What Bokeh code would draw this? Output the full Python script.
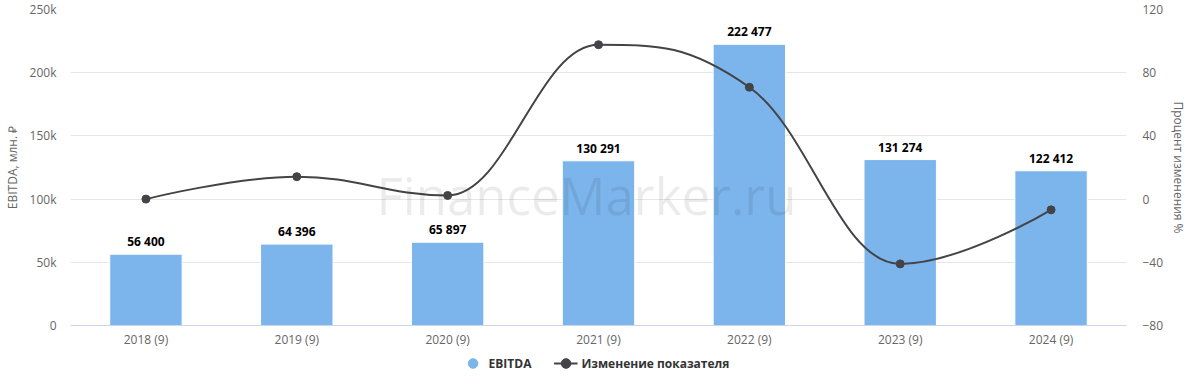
from bokeh.plotting import figure
from bokeh.layouts import column
from bokeh.models import (ColumnDataSource, Range1d, LinearAxis, FixedTicker, CustomJSTickFormatter,
                          Legend, LegendItem, Label, FactorRange)
from bokeh.core.properties import value
from bokeh.embed import file_html
from bokeh.resources import INLINE

categories = ["2018 (9)", "2019 (9)", "2020 (9)", "2021 (9)", "2022 (9)", "2023 (9)", "2024 (9)"]
ebitda = [56400, 64396, 65897, 130291, 222477, 131274, 122412]
change_pct = [0.0, 14.2, 2.3, 97.7, 70.8, -41.0, -6.8]
left_ticks = [0, 50000, 100000, 150000, 200000, 250000]
right_ticks = [-80, -40, 0, 40, 80, 120]
legend_labels = ["EBITDA", "Изменение показателя"]

FONT = "Open Sans"
BAR_COLOR = "#7cb5ec"
LINE_COLOR = "#434348"
NAN = float("nan")


def fmt_space(v):
    return f"{v:,}".replace(",", " ")


p = figure(frame_width=1056, frame_height=316, x_range=FactorRange(*categories, range_padding=0),
           y_range=Range1d(0, 250000), output_backend="svg", toolbar_location=None,
           min_border_left=70, min_border_right=58, min_border_top=9, min_border_bottom=0)
p.extra_y_ranges = {"pct": Range1d(-80, 120)}
p.outline_line_color = None
p.background_fill_color = "white"

# bars
src = ColumnDataSource(dict(cat=categories, val=ebitda, lab=[fmt_space(v) for v in ebitda]))
p.vbar(x="cat", top="val", width=0.48, source=src, fill_color=BAR_COLOR, line_color="white", line_width=1)
p.text(x="cat", y="val", text="lab", source=src, text_align="center", text_baseline="bottom",
       y_offset=-4, text_font=value(FONT), text_font_size="12px", text_font_style="bold", text_color="black")

# spline (Highcharts-style control points)
xs = [i + 0.5 for i in range(len(categories))]
ys = change_pct
sm = 1.5
den = sm + 1
lc = [None] * len(xs)
rc = [None] * len(xs)
for i in range(1, len(xs) - 1):
    px, py = xs[i], ys[i]
    lx, ly = xs[i - 1], ys[i - 1]
    nx, ny = xs[i + 1], ys[i + 1]
    lcx = (sm * px + lx) / den
    lcy = (sm * py + ly) / den
    rcx = (sm * px + nx) / den
    rcy = (sm * py + ny) / den
    corr = ((rcy - lcy) * (rcx - px)) / (rcx - lcx) + py - rcy
    lcy += corr
    rcy += corr
    if lcy > ly and lcy > py:
        lcy = max(ly, py); rcy = 2 * py - lcy
    elif lcy < ly and lcy < py:
        lcy = min(ly, py); rcy = 2 * py - lcy
    if rcy > ny and rcy > py:
        rcy = max(ny, py); lcy = 2 * py - rcy
    elif rcy < ny and rcy < py:
        rcy = min(ny, py); lcy = 2 * py - rcy
    lc[i] = (lcx, lcy)
    rc[i] = (rcx, rcy)

bz = dict(x0=[], y0=[], x1=[], y1=[], cx0=[], cy0=[], cx1=[], cy1=[])
for i in range(1, len(xs)):
    a = rc[i - 1] if rc[i - 1] else (xs[i - 1], ys[i - 1])
    b = lc[i] if lc[i] else (xs[i], ys[i])
    bz["x0"].append(xs[i - 1]); bz["y0"].append(ys[i - 1])
    bz["x1"].append(xs[i]); bz["y1"].append(ys[i])
    bz["cx0"].append(a[0]); bz["cy0"].append(a[1])
    bz["cx1"].append(b[0]); bz["cy1"].append(b[1])
p.bezier(x0="x0", y0="y0", x1="x1", y1="y1", cx0="cx0", cy0="cy0", cx1="cx1", cy1="cy1",
         source=ColumnDataSource(bz), y_range_name="pct", line_color=LINE_COLOR, line_width=2)
p.scatter(x=categories, y=change_pct, y_range_name="pct", size=8, marker="circle",
          fill_color=LINE_COLOR, line_color=LINE_COLOR)

# watermark
p.add_layout(Label(x=3.42, y=103000, text="FinanceMarker.ru",
                   text_align="center", text_baseline="alphabetic", text_font=FONT,
                   text_font_size="51px", text_color="black", text_alpha=0.08))

# axes
p.xaxis.major_tick_line_color = None
p.xaxis.minor_tick_line_color = None
p.xaxis.major_tick_out = 0
p.xaxis.major_tick_in = 0
p.xaxis.axis_line_color = "#ccd6eb"
p.xaxis.major_label_standoff = 5
p.xaxis.major_label_text_font = FONT
p.xaxis.major_label_text_font_size = "12px"
p.xaxis.major_label_text_color = "#666666"

yl = p.yaxis[0]
yl.ticker = FixedTicker(ticks=left_ticks)
yl.formatter = CustomJSTickFormatter(code="return tick == 0 ? '0' : (tick/1000) + 'k';")
yl.axis_line_color = None
yl.major_tick_line_color = None
yl.minor_tick_line_color = None
yl.major_tick_out = 0
yl.major_tick_in = 0
yl.major_label_standoff = 14
yl.major_label_text_font = FONT
yl.major_label_text_font_size = "12px"
yl.major_label_text_color = "#666666"
yl.axis_label = "EBITDA, млн. ₽"
yl.axis_label_text_font = FONT
yl.axis_label_text_font_size = "12px"
yl.axis_label_text_font_style = "normal"
yl.axis_label_text_color = "#666666"
yl.axis_label_standoff = 6

yr = LinearAxis(y_range_name="pct", ticker=FixedTicker(ticks=right_ticks))
yr.axis_line_color = None
yr.major_tick_line_color = None
yr.minor_tick_line_color = None
yr.major_tick_out = 0
yr.major_tick_in = 0
yr.major_label_standoff = 16
yr.major_label_text_font = FONT
yr.major_label_text_font_size = "12px"
yr.major_label_text_color = "#666666"
yr.axis_label = "Процент изменения %"
yr.axis_label_text_font = FONT
yr.axis_label_text_font_size = "12px"
yr.axis_label_text_font_style = "normal"
yr.axis_label_text_color = "#666666"
yr.axis_label_standoff = 4
p.add_layout(yr, "right")

p.xgrid.grid_line_color = None
p.ygrid.ticker = FixedTicker(ticks=left_ticks)
p.ygrid.grid_line_color = "#e6e6e6"

# legend strip below the chart (separate figure, legend inside its frame)
lf = figure(width=1184, height=25, x_range=Range1d(0, 1), y_range=Range1d(0, 1),
            output_backend="svg", toolbar_location=None, min_border=0,
            min_border_left=0, min_border_right=0, min_border_top=0, min_border_bottom=0)
lf.axis.visible = False
lf.grid.visible = False
lf.outline_line_color = None
proxy_bar = lf.scatter(x=[NAN], y=[NAN], marker="circle", size=12, fill_color=BAR_COLOR, line_color=BAR_COLOR)
proxy_line = lf.line(x=[NAN, NAN], y=[NAN, NAN], line_color=LINE_COLOR, line_width=2)
proxy_pt = lf.scatter(x=[NAN], y=[NAN], marker="circle", size=8, fill_color=LINE_COLOR, line_color=LINE_COLOR)
legend = Legend(items=[LegendItem(label=legend_labels[0], renderers=[proxy_bar]),
                       LegendItem(label=legend_labels[1], renderers=[proxy_line, proxy_pt])],
                orientation="horizontal", location="center", border_line_color=None,
                background_fill_alpha=0, label_text_font=FONT, label_text_font_size="12px",
                label_text_font_style="bold", label_text_color="#333333",
                glyph_width=24, glyph_height=25, spacing=22, padding=0, margin=0, label_standoff=4)
lf.add_layout(legend, "center")

layout = column(p, lf, spacing=0)
open("out.html", "w").write(file_html(layout, INLINE))
